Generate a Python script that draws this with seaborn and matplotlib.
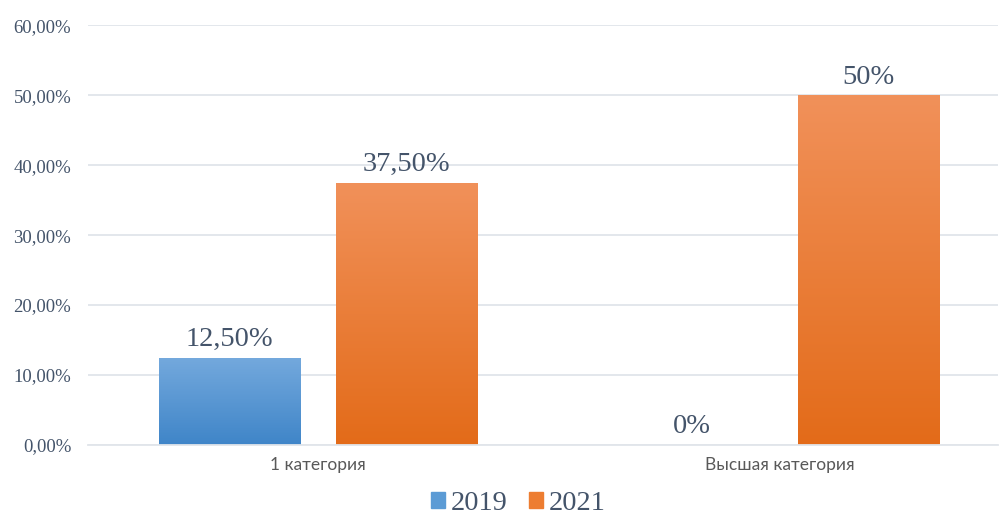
import numpy as np
import pandas as pd
import seaborn as sns
import matplotlib.pyplot as plt
from matplotlib.colors import LinearSegmentedColormap

categories = ["1 категория", "Высшая категория"]
years = ["2019", "2021"]
values_2019 = [12.5, 0.0]
values_2021 = [37.5, 50.0]
labels_2019 = ["12,50%", "0%"]
labels_2021 = ["37,50%", "50%"]
yticks = [0, 10, 20, 30, 40, 50, 60]
ytick_labels = ["0,00%", "10,00%", "20,00%", "30,00%", "40,00%", "50,00%", "60,00%"]

df = pd.DataFrame({
    "category": categories * 2,
    "year": [years[0]] * 2 + [years[1]] * 2,
    "value": values_2019 + values_2021,
})

text_color = "#44546A"
grid_color = "#E1E5EA"
colors = {"2019": "#5B9BD5", "2021": "#ED7D31"}
grads = {"2019": ("#74A9DD", "#3F85C8"), "2021": ("#F1915A", "#E36B19")}

sns.set_theme(style="white")
fig = plt.figure(figsize=(9.99, 5.15), dpi=100)
ax = fig.add_axes([0.088, 0.136, 0.911, 0.815])

sns.barplot(data=df, x="category", y="value", hue="year", palette=colors,
            width=0.766, gap=0.2, ax=ax, legend=False, saturation=1)

# vertical gradient fill for each bar
for cont, year in zip(ax.containers, years):
    cmap = LinearSegmentedColormap.from_list(year, [grads[year][1], grads[year][0]])
    for patch in cont:
        h = patch.get_height()
        if h <= 0:
            continue
        x0 = patch.get_x()
        w = patch.get_width()
        grad = np.linspace(0, 1, 256).reshape(-1, 1)
        im = ax.imshow(grad, extent=[x0, x0 + w, 0, h], origin="lower",
                       aspect="auto", cmap=cmap, zorder=2)
        im.set_clip_path(patch)
        patch.set_facecolor("none")
        patch.set_edgecolor("none")

for cont, labs in zip(ax.containers, [labels_2019, labels_2021]):
    ax.bar_label(cont, labels=labs, padding=4, fontsize=20.5,
                 family="Liberation Serif", color=text_color)

ax.set_xlim(-0.498, 1.472)
ax.set_ylim(0, 60)
ax.set_yticks(yticks)
ax.set_yticklabels(ytick_labels, family="Liberation Serif", fontsize=13.5, color=text_color)
ax.tick_params(axis="y", length=0, pad=12)
ax.tick_params(axis="x", length=0, pad=9, labelsize=12.5, labelcolor="#595959")
for t in ax.get_xticklabels():
    t.set_family("Lato")
ax.set_xlabel("")
ax.set_ylabel("")
ax.yaxis.grid(True, color=grid_color, linewidth=1.3)
ax.set_axisbelow(True)
for s in ["top", "right", "left"]:
    ax.spines[s].set_visible(False)
ax.spines["bottom"].set_color(grid_color)
ax.spines["bottom"].set_linewidth(1.3)

handles = [plt.Rectangle((0, 0), 1, 1, color=colors[y]) for y in years]
fig.legend(handles, years, loc="center", bbox_to_anchor=(0.519, 0.022), ncol=2,
           frameon=False, prop={"family": "Liberation Serif", "size": 20.5},
           labelcolor=text_color, handlelength=0.49, handleheight=0.49,
           handletextpad=0.22, columnspacing=0.74)

fig.savefig("out.png", dpi=100)
